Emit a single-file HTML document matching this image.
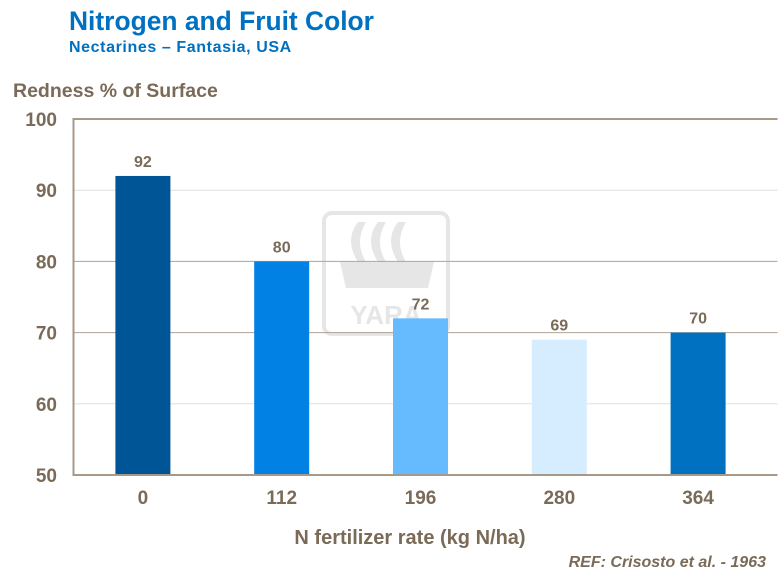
<!DOCTYPE html>
<html><head><meta charset="utf-8"><style>
body{margin:0;background:#fff;}
svg{display:block;font-family:"Liberation Sans",Arial,sans-serif;font-weight:bold;}
</style></head><body>
<svg id="chart" width="781" height="571" viewBox="0 0 781 571">
<text x="69" y="30" font-size="26.4" fill="#0070c0">Nitrogen and Fruit Color</text>
<text x="69" y="52" font-size="16" letter-spacing="0.6" fill="#0070c0">Nectarines  – Fantasia, USA</text>
<text x="13" y="97" font-size="19.5" fill="#7a6a58">Redness % of Surface</text>
<g fill="#e6e6e6" stroke="none">
<rect x="324" y="213" width="124" height="121" rx="8" fill="none" stroke="#e6e6e6" stroke-width="4"/>
<path d="M358 222 q-14 18 0 40 l8 0 q-12 -20 0 -40z M378 222 q-14 18 0 40 l8 0 q-12 -20 0 -40z M398 222 q-14 18 0 40 l8 0 q-12 -20 0 -40z"/>
<path d="M340 262 l94 0 l-6 26 l-82 0z"/>
<text x="386" y="324" font-size="26" text-anchor="middle" fill="#e6e6e6">YARA</text>
</g>
<g id="grid"></g>
<g id="bars"></g>
<g id="axes"></g>
<text x="410" y="544" font-size="20" fill="#7a6a58" text-anchor="middle">N fertilizer rate (kg N/ha)</text>
<text x="766" y="567" font-size="16" font-style="italic" fill="#7a6a58" text-anchor="end">REF: Crisosto et al. - 1963</text>
</svg>
<script>
const categories=["0","112","196","280","364"];
const values=[92,80,72,69,70];
const barColors=["#005596","#0081e3","#66bbff","#d6ecff","#0070c0"];
const yTicks=[50,60,70,80,90,100];
const NS="http://www.w3.org/2000/svg";
const pLeft=73.5,pRight=767.5,pTop=119,pBottom=475,ymin=50,ymax=100;
const yS=v=>pBottom-(v-ymin)/(ymax-ymin)*(pBottom-pTop);
const step=(pRight-pLeft)/categories.length;
const xS=i=>pLeft+step*(i+0.5);
function mk(t,a,p){const e=document.createElementNS(NS,t);for(const k in a)e.setAttribute(k,a[k]);p.appendChild(e);return e;}
const grid=document.getElementById('grid'),bars=document.getElementById('bars'),axes=document.getElementById('axes');
yTicks.forEach(v=>{
 if(v>ymin&&v<ymax){const l=mk('line',{x1:pLeft,x2:pRight+10,y1:yS(v),y2:yS(v),stroke:(v==80||v==70)?'#b0a294':'#e4e0dc','stroke-width':1},grid);
 
 }
 const t=mk('text',{x:57,y:yS(v)+7,'font-size':19,fill:'#7a6a58','text-anchor':'end'},axes);t.textContent=v;
 
 
});
const bw=55;
values.forEach((v,i)=>{
 const r=mk('rect',{x:xS(i)-bw/2,y:yS(v),width:bw,height:pBottom-yS(v),fill:barColors[i]},bars);
 
 
 const t=mk('text',{x:xS(i),y:yS(v)-9,'font-size':16,fill:'#7a6a58','text-anchor':'middle'},bars);t.textContent=v;
 
 
 const c=mk('text',{x:xS(i),y:504,'font-size':19,fill:'#7a6a58','text-anchor':'middle'},axes);c.textContent=categories[i];
 
 
});
const ax=mk('path',{d:`M${pRight+10} ${pTop} L${pLeft} ${pTop} L${pLeft} ${pBottom} L${pRight+10} ${pBottom}`,fill:'none',stroke:'#a89888','stroke-width':2},axes);


</script>
</body></html>
